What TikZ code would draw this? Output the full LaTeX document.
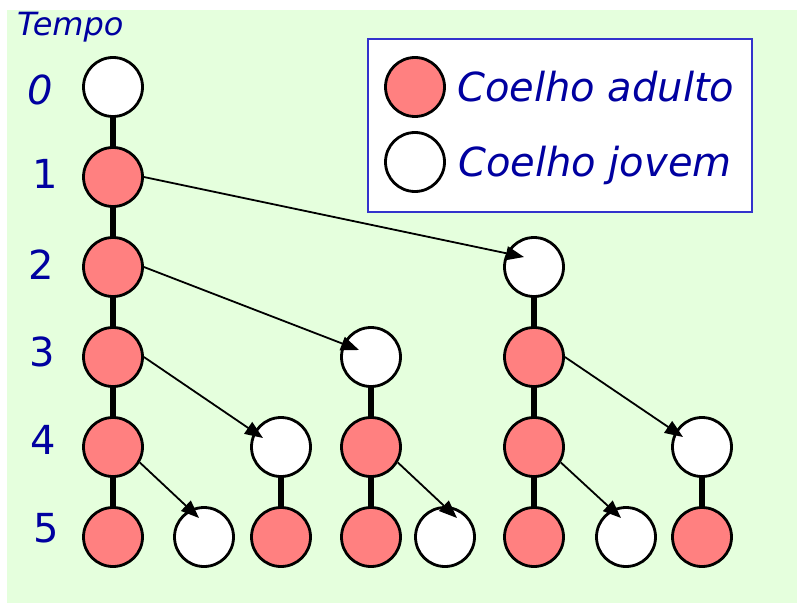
\documentclass[tikz,border=0pt]{standalone}
\usepackage{fontspec}
\setmainfont{DejaVu Sans}
\usetikzlibrary{arrows.meta,calc}
\definecolor{bg}{RGB}{229,255,221}
\definecolor{adult}{RGB}{255,128,128}
\definecolor{ink}{RGB}{0,0,160}
\definecolor{frame}{RGB}{51,51,204}
\begin{document}
\begin{tikzpicture}[x=1pt,y=-1pt,
  rabbit/.style={circle,draw=black,line width=2.8pt,minimum size=59pt,inner sep=0pt},
  adulto/.style={rabbit,fill=adult},
  jovem/.style={rabbit,fill=white},
  link/.style={line width=6pt,shorten <=-1.5pt,shorten >=-1.5pt},
  birth/.style={line width=1.8pt,-{Triangle[length=18pt,width=14pt]}},
  lbl/.style={text=ink,inner sep=0pt,font=\itshape\fontsize{40}{40}\selectfont},
  num/.style={text=ink,inner sep=0pt,font=\fontsize{40}{40}\selectfont},
]
% canvas
\useasboundingbox (0,0) rectangle (797,604);
\fill[white] (0,0) rectangle (797,604);
\fill[bg] (7,10) rectangle (797,603);

% legend
\draw[frame,line width=1.8pt,fill=white] (368,39) rectangle (752,212);
\node[adulto] (l1) at (415,87) {};
\node[jovem]  (l2) at (415,162) {};
\node[lbl,anchor=base west] (t1) at (457,102) {Coelho adulto};
\node[lbl,anchor=base west] (t2) at (458,177) {Coelho jovem};

% time axis
\node[lbl,anchor=base west,font=\itshape\fontsize{32}{32}\selectfont] (tempo) at (17,36) {Tempo};
\node[lbl] (n0) at (40,90) {0};
\node[num] (n1) at (45,174) {1};
\node[num] (n2) at (41,265) {2};
\node[num] (n3) at (42,352) {3};
\node[num] (n4) at (43,440) {4};
\node[num] (n5) at (46,528) {5};

% rabbits
\node[jovem]  (a0) at (113,87) {};
\node[adulto] (a1) at (113,177) {};
\node[adulto] (a2) at (113,267) {};
\node[adulto] (a3) at (113,357) {};
\node[adulto] (a4) at (113,447) {};
\node[adulto] (a5) at (113,537) {};

\node[jovem]  (b2) at (534,267) {};
\node[adulto] (b3) at (534,357) {};
\node[adulto] (b4) at (534,447) {};
\node[adulto] (b5) at (534,537) {};

\node[jovem]  (c3) at (371,357) {};
\node[adulto] (c4) at (371,447) {};
\node[adulto] (c5) at (371,537) {};

\node[jovem]  (d4) at (281,447) {};
\node[adulto] (d5) at (281,537) {};

\node[jovem]  (e4) at (702,447) {};
\node[adulto] (e5) at (702,537) {};

\node[jovem]  (f5) at (204,537) {};
\node[jovem]  (g5) at (445,537) {};
\node[jovem]  (h5) at (626,537) {};

% ageing: same rabbit one step later
\foreach \u/\v in {a0/a1,a1/a2,a2/a3,a3/a4,a4/a5,b2/b3,b3/b4,b4/b5,c3/c4,c4/c5,d4/d5,e4/e5}
  \draw[link] (\u) -- (\v);

% births
\draw[birth] (a1.east) -- ($(b2.center)+(-10,-10)$);
\draw[birth] (a2.east) -- ($(c3.center)+(-12,-7)$);
\draw[birth] (a3.east) -- ($(d4.center)+(-18,-9)$);
\draw[birth] (a4.-30) -- ($(f5.center)+(-5,-19)$);
\draw[birth] (c4.-30) -- ($(g5.center)+(12,-19)$);
\draw[birth] (b3.east) -- ($(e4.center)+(-19,-10)$);
\draw[birth] (b4.-30) -- ($(h5.center)+(-5,-19)$);
\end{tikzpicture}
\end{document}
